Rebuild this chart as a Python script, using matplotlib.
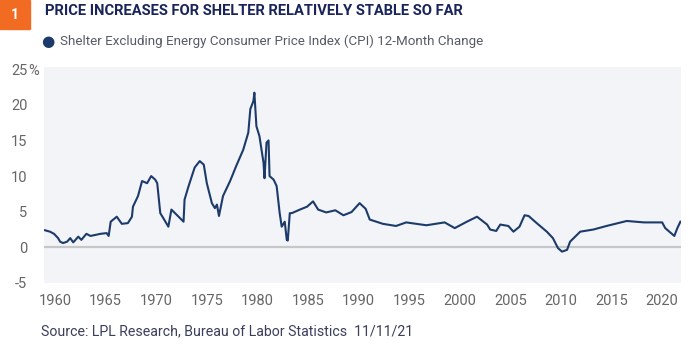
import matplotlib.pyplot as plt
from matplotlib.patches import Rectangle
from matplotlib.transforms import blended_transform_factory

# values (year, 12-month % change)
years = [1959.0, 1959.5, 1959.9, 1960.3, 1960.5, 1960.8, 1961.2, 1961.5, 1961.8,
         1962.3, 1962.6, 1963.1, 1963.5, 1964.0, 1964.5, 1965.1, 1965.3, 1965.5,
         1966.1, 1966.6, 1967.2, 1967.6, 1967.7, 1968.2, 1968.6, 1969.1, 1969.5,
         1969.9, 1970.1, 1970.4, 1970.7, 1971.2, 1971.5, 1972.0, 1972.7, 1972.8,
         1973.2, 1973.8, 1974.3, 1974.7, 1975.0, 1975.5, 1975.8, 1976.0, 1976.2,
         1976.6, 1977.3, 1977.9, 1978.6, 1979.1, 1979.3, 1979.6, 1979.7, 1979.9,
         1980.2, 1980.6, 1980.7, 1980.9, 1981.1, 1981.2, 1981.6, 1981.9, 1982.2,
         1982.4, 1982.7, 1982.9, 1983.0, 1983.2, 1983.4, 1984.2, 1984.9, 1985.5,
         1986.0, 1986.8, 1987.7, 1988.5, 1989.3, 1990.1, 1990.7, 1991.1, 1992.4,
         1993.7, 1994.7, 1996.7, 1998.5, 1999.5, 2000.7, 2001.7, 2002.7, 2003.0,
         2003.6, 2004.0, 2004.8, 2005.3, 2005.9, 2006.4, 2006.8, 2007.6, 2008.6,
         2009.2, 2009.7, 2010.1, 2010.6, 2010.9, 2011.9, 2013.2, 2014.5, 2016.5,
         2018.2, 2020.0, 2020.3, 2021.2, 2021.5, 2021.8]
shelter = [2.4, 2.2, 1.9, 1.3, 0.8, 0.6, 0.8, 1.3, 0.7,
           1.5, 1.05, 1.9, 1.6, 1.75, 1.9, 2.0, 1.6, 3.6,
           4.3, 3.3, 3.4, 4.3, 5.7, 7.2, 9.3, 9.0, 10.0,
           9.5, 9.0, 4.8, 4.1, 2.9, 5.3, 4.6, 3.6, 6.7,
           8.6, 11.2, 12.1, 11.6, 9.0, 6.2, 5.5, 6.0, 4.4,
           7.2, 9.3, 11.4, 13.7, 16.1, 19.4, 20.5, 21.7, 17.0,
           15.6, 11.9, 9.7, 14.7, 15.0, 10.0, 9.5, 8.6, 4.8,
           2.9, 3.6, 1.05, 0.95, 4.8, 4.8, 5.3, 5.7, 6.45,
           5.3, 4.9, 5.2, 4.5, 4.95, 6.2, 5.4, 3.9, 3.3,
           3.0, 3.5, 3.1, 3.5, 2.7, 3.6, 4.3, 3.2, 2.5,
           2.3, 3.2, 3.0, 2.2, 2.9, 4.5, 4.4, 3.4, 2.2,
           1.3, -0.1, -0.6, -0.35, 0.8, 2.2, 2.5, 3.0, 3.7,
           3.5, 3.5, 2.7, 1.6, 2.7, 3.6]

x_ticks = list(range(1960, 2021, 5))
y_ticks = [-5, 0, 5, 10, 15, 20, 25]

navy = '#1d3b6a'
grey_txt = '#666666'

fig = plt.figure(figsize=(7, 3.63), dpi=100)
ax = fig.add_axes([44 / 700, 1 - 283 / 363, 637 / 700, 216 / 363])
ax.set_facecolor('#f2f4f7')

ax.axhline(0, color='#c6c7c9', lw=1.6, zorder=1)
ax.plot(years, shelter, color=navy, lw=1.5, zorder=2)

ax.set_xlim(1958.91, 2021.86)
ax.set_ylim(-5.0, 25.3)
ax.set_xticks(x_ticks)
ax.set_yticks(y_ticks)
ax.set_yticklabels([str(v) for v in y_ticks])
ax.tick_params(length=0, labelsize=10.5, labelcolor=grey_txt)
ax.tick_params(axis='y', pad=12)
ax.tick_params(axis='x', pad=8)
for lbl in ax.get_xticklabels() + ax.get_yticklabels():
    lbl.set_family('Roboto')
for s in ax.spines.values():
    s.set_visible(False)

# percent sign after the top label
tr = blended_transform_factory(fig.transFigure, ax.transData)
fig.text(28 / 700, 25, '%', transform=tr, ha='left', va='center_baseline',
         fontsize=10.5, color=grey_txt, family='Roboto')

# numbered badge and title
fig.patches.append(Rectangle((0, 1 - 29 / 363), 30 / 700, 29 / 363,
                             transform=fig.transFigure, color='#f26b23'))
fig.text(15 / 700, 1 - 15 / 363, '1', ha='center', va='center', color='white',
         fontsize=10, fontweight='bold', family='Roboto')
fig.text(45 / 700, 1 - 11 / 363, 'PRICE INCREASES FOR SHELTER RELATIVELY STABLE SO FAR',
         ha='left', va='center', fontsize=10.6, fontweight='bold', color='#19245a',
         family=['Liberation Sans Narrow', 'Roboto'])

# legend
fig.text(48 / 700, 1 - 41 / 363, '\u25cf', ha='center', va='center', color=navy,
         fontsize=11, family='DejaVu Sans')
fig.text(60 / 700, 1 - 41 / 363,
         'Shelter Excluding Energy Consumer Price Index (CPI) 12-Month Change',
         ha='left', va='center', fontsize=9.6, color='#555a66', family='Roboto')

# source
fig.text(41 / 700, 1 - 331 / 363,
         'Source: LPL Research, Bureau of Labor Statistics  11/11/21',
         ha='left', va='center', fontsize=10.2, color='#3a3f5c', family='Roboto')

fig.savefig('out.png', dpi=100)
